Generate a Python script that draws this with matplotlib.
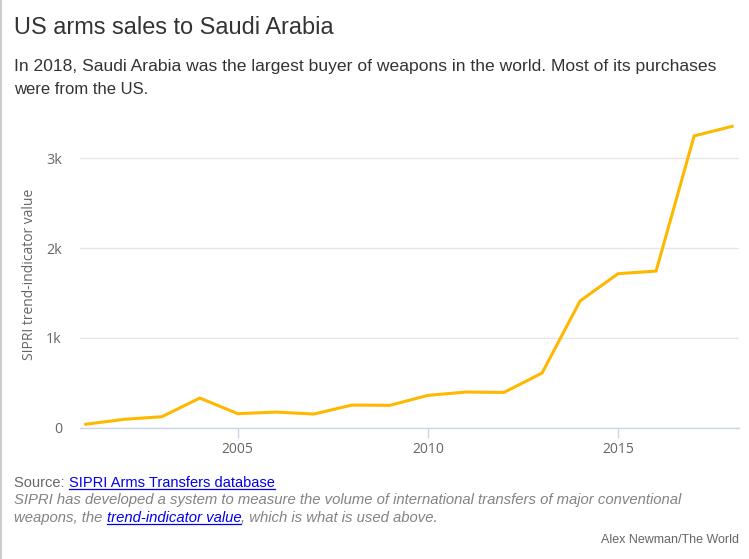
import matplotlib
matplotlib.use("Agg")
import matplotlib.pyplot as plt
from matplotlib.lines import Line2D
from matplotlib.ticker import FuncFormatter

years = list(range(2001, 2019))
tiv = [38, 93, 122, 330, 156, 174, 152, 252, 249, 360, 397, 393, 608, 1411, 1715, 1744, 3249, 3356]
xticks = [2005, 2010, 2015]
yticks = [0, 1000, 2000, 3000]

title = "US arms sales to Saudi Arabia"
subtitle = ["In 2018, Saudi Arabia was the largest buyer of weapons in the world. Most of its purchases",
            "were from the US."]
W, H = 749, 559
fig = plt.figure(figsize=(W / 100, H / 100), dpi=100)
fig.patch.set_facecolor("white")

def fx(x):
    return x / W

def fy(y):
    return 1 - y / H

ax = fig.add_axes([fx(80), fy(427.7), fx(739) - fx(80), fy(122) - fy(427.7)])
ax.plot(years, tiv, color="#FFB800", lw=2.2, solid_joinstyle="miter", clip_on=False)
ax.set_xlim(2000.85, 2018.18)
ax.set_ylim(0, 3404)
ax.set_yticks(yticks)
ax.set_xticks(xticks)
ax.yaxis.set_major_formatter(FuncFormatter(lambda v, p: "0" if v == 0 else f"{int(v/1000)}k"))
for s in ["top", "right", "left"]:
    ax.spines[s].set_visible(False)
ax.spines["bottom"].set_color("#ccd6eb")
ax.spines["bottom"].set_linewidth(1)
ax.grid(axis="y", color="#e6e6e6", lw=1)
ax.set_axisbelow(True)
ax.tick_params(axis="y", length=0, pad=13, labelsize=10.3, labelcolor="#666666")
ax.tick_params(axis="x", length=7, width=1, color="#ccd6eb", pad=3, labelsize=10, labelcolor="#666666")
for lab in ax.get_xticklabels() + ax.get_yticklabels():
    lab.set_fontfamily(["Open Sans", "DejaVu Sans"])
ax.set_ylabel("SIPRI trend-indicator value", fontsize=10, color="#666666",
              family=["Open Sans", "DejaVu Sans"])
ax.yaxis.set_label_coords((37 - 80) / (739 - 80), 0.5)

fig.canvas.draw()
renderer = fig.canvas.get_renderer()

def fit(t, target_w):
    bb = t.get_window_extent(renderer)
    t.set_fontsize(t.get_fontsize() * target_w / bb.width)
    return t

def txt(x, y, s, target_w=None, **kw):
    kw.setdefault("family", ["Liberation Sans", "DejaVu Sans"])
    kw.setdefault("va", "center")
    t = fig.text(fx(x), fy(y), s, **kw)
    if target_w:
        fit(t, target_w)
    return t

txt(14, 27, title, 319, fontsize=15, color="#333333")
txt(14, 67, subtitle[0], 703, fontsize=12, color="#333333")
t2 = txt(14, 89, subtitle[1], fontsize=12, color="#333333")
fig.canvas.draw()

def underline(t, color):
    bb = t.get_window_extent(renderer)
    y = bb.y0 + 1.5
    fig.add_artist(Line2D([bb.x0 / W, bb.x1 / W], [y / H, y / H], color=color, lw=0.9,
                          transform=fig.transFigure))

gray = "#666666"
link = "#0000EE"
s1 = txt(14, 483, "Source: ", fontsize=10.5, color=gray)
fig.canvas.draw()
bb = s1.get_window_extent(renderer)
s2 = txt(bb.x1, 483, "SIPRI Arms Transfers database", fontsize=10.5, color=link)
fig.canvas.draw()
underline(s2, link)

it1 = txt(14, 500, "SIPRI has developed a system to measure the volume of international transfers of major conventional",
          675, fontsize=10.5, color="#838383", style="italic")
fs = it1.get_fontsize()
i2a = txt(14, 518, "weapons, the ", fontsize=fs, color="#838383", style="italic")
fig.canvas.draw()
bb = i2a.get_window_extent(renderer)
i2b = txt(bb.x1, 518, "trend-indicator value", fontsize=fs, color=link, style="italic")
fig.canvas.draw()
underline(i2b, link)
bb = i2b.get_window_extent(renderer)
txt(bb.x1, 518, ", which is what is used above.", fontsize=fs, color="#838383", style="italic")

txt(739, 540, "Alex Newman/The World", 138, fontsize=9, color=gray, ha="right")

fig.add_artist(Line2D([0.5 / W, 0.5 / W], [0, 1], color="#cccccc", lw=1.5, transform=fig.transFigure))

fig.savefig("out.png", dpi=100, facecolor="white")
